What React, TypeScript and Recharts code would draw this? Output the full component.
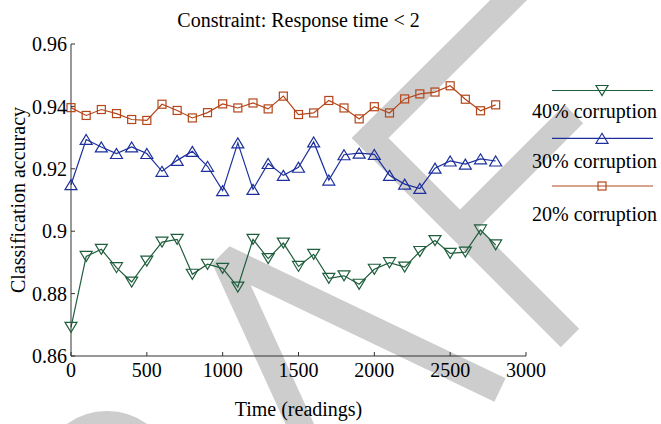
import React from 'react';
import { LineChart, Line, XAxis, YAxis, Label } from 'recharts';

const FONT = '"Liberation Serif", "Times New Roman", serif';

// readings, every 100
const TIME = [
  0, 100, 200, 300, 400, 500, 600, 700, 800, 900, 1000, 1100, 1200, 1300, 1400,
  1500, 1600, 1700, 1800, 1900, 2000, 2100, 2200, 2300, 2400, 2500, 2600, 2700, 2800,
];

const ACC_40 = [
  0.8692, 0.8919, 0.8942, 0.8883, 0.8837, 0.8904, 0.8965, 0.8974, 0.8862, 0.8894,
  0.8881, 0.8821, 0.8974, 0.8912, 0.8962, 0.8887, 0.8926, 0.8849, 0.8857, 0.883,
  0.8878, 0.8899, 0.8885, 0.8935, 0.897, 0.8929, 0.8933, 0.9004, 0.8956,
];

const ACC_30 = [
  0.9149, 0.9294, 0.927, 0.9249, 0.927, 0.9249, 0.9192, 0.9227, 0.9256, 0.9208,
  0.913, 0.9283, 0.9134, 0.9217, 0.9179, 0.9205, 0.9286, 0.9164, 0.9245, 0.925,
  0.9246, 0.9179, 0.9151, 0.9137, 0.9202, 0.9225, 0.9215, 0.9232, 0.9225,
];

const ACC_20 = [
  0.9396, 0.9371, 0.939, 0.9377, 0.9358, 0.9355, 0.9407, 0.9387, 0.9363, 0.938,
  0.9408, 0.9395, 0.9411, 0.9392, 0.9433, 0.9374, 0.9379, 0.9419, 0.9395, 0.936,
  0.9399, 0.9379, 0.9424, 0.944, 0.9446, 0.9466, 0.9423, 0.9386, 0.9405,
];

const X_TICKS = [0, 500, 1000, 1500, 2000, 2500, 3000];
const Y_TICKS = [0.86, 0.88, 0.9, 0.92, 0.94, 0.96];

type Shape = 'down' | 'up' | 'square';

const SERIES: Array<{ key: string; name: string; color: string; shape: Shape; values: number[] }> = [
  { key: 'c40', name: '40% corruption', color: '#1f5e3d', shape: 'down', values: ACC_40 },
  { key: 'c30', name: '30% corruption', color: '#1c2f9c', shape: 'up', values: ACC_30 },
  { key: 'c20', name: '20% corruption', color: '#b4461a', shape: 'square', values: ACC_20 },
];

const data = TIME.map((t, i) => {
  const row: Record<string, number> = { t };
  SERIES.forEach((s) => {
    row[s.key] = s.values[i];
  });
  return row;
});

function Marker({ cx, cy, shape, color }: { cx: number; cy: number; shape: Shape; color: string }) {
  if (cx == null || cy == null) return null;
  if (shape === 'square') {
    return <rect x={cx - 4} y={cy - 4} width={8} height={8} fill="none" stroke={color} strokeWidth={1.2} />;
  }
  const w = 6;
  const h = 5;
  const pts =
    shape === 'up'
      ? `${cx},${cy - h} ${cx + w},${cy + h} ${cx - w},${cy + h}`
      : `${cx - w},${cy - h} ${cx + w},${cy - h} ${cx},${cy + h}`;
  return <polygon points={pts} fill="none" stroke={color} strokeWidth={1.2} />;
}

// grey "DRAFT" watermark behind the figure
function Watermark() {
  const g = '#cdcdcd';
  return (
    <svg width={661} height={424} style={{ position: 'absolute', left: 0, top: 0 }}>
      <circle cx={107} cy={479} r={55} fill="none" stroke={g} strokeWidth={26} />
      <polyline points="355,545 224,258 500,390" fill="none" stroke={g} strokeWidth={26} strokeLinejoin="bevel" />
      <polyline points="572,-63 370,138 570,338" fill="none" stroke={g} strokeWidth={26} strokeLinejoin="miter" />
      <line x1={461} y1={227} x2={574} y2={114} stroke={g} strokeWidth={26} />
    </svg>
  );
}

export default function App() {
  const legendRows = [
    { line: 90.5, text: 118.3 },
    { line: 138.3, text: 168.3 },
    { line: 186, text: 220.7 },
  ];
  return (
    <div style={{ position: 'absolute', left: 0, top: 0, width: 661, height: 424, background: '#fff' }}>
      <Watermark />
      <div style={{ position: 'absolute', left: 0, top: 0 }}>
        <LineChart width={661} height={424} data={data} margin={{ top: 44, right: 135, bottom: 38, left: 11 }}>
          <XAxis
            dataKey="t"
            type="number"
            domain={[0, 3000]}
            ticks={X_TICKS}
            height={30}
            stroke="#333"
            tickSize={-4}
            tickMargin={11}
            tick={{ fill: '#000', fontSize: 20, fontFamily: FONT }}
          >
            <Label value="Time (readings)" position="bottom" offset={16} fill="#000" fontSize={20} fontFamily={FONT} />
          </XAxis>
          <YAxis
            type="number"
            domain={[0.86, 0.96]}
            ticks={Y_TICKS}
            width={60}
            stroke="#333"
            tickSize={-4}
            tickMargin={8}
            tick={{ fill: '#000', fontSize: 20, fontFamily: FONT }}
          >
            <Label
              value="Classification accuracy"
              position="center"
              angle={-90}
              dx={-23}
              fill="#000"
              fontSize={20}
              fontFamily={FONT}
            />
          </YAxis>
          {SERIES.map((s) => (
            <Line
              key={s.key}
              dataKey={s.key}
              stroke={s.color}
              strokeWidth={1.2}
              isAnimationActive={false}
              activeDot={false}
              dot={(p: any) => <Marker key={`${s.key}-${p.index}`} cx={p.cx} cy={p.cy} shape={s.shape} color={s.color} />}
            />
          ))}
        </LineChart>
      </div>
      <svg width={661} height={424} style={{ position: 'absolute', left: 0, top: 0, pointerEvents: 'none' }}>
        <text x={298.5} y={27} textAnchor="middle" fontFamily={FONT} fontSize={20} fill="#000">
          Constraint: Response time &lt; 2
        </text>
        {SERIES.map((s, i) => (
          <g key={s.key}>
            <line x1={552} x2={653} y1={legendRows[i].line} y2={legendRows[i].line} stroke={s.color} strokeWidth={1.2} />
            <Marker cx={602} cy={legendRows[i].line} shape={s.shape} color={s.color} />
            <text x={532} y={legendRows[i].text} fontFamily={FONT} fontSize={20} fill="#000">
              {s.name}
            </text>
          </g>
        ))}
      </svg>
    </div>
  );
}
